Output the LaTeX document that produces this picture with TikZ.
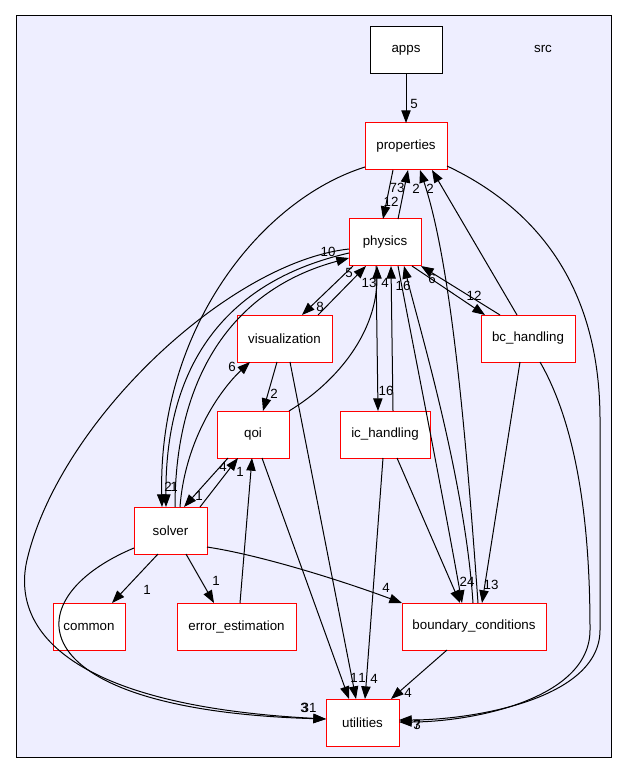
\documentclass[tikz,border=0pt]{standalone}
\usepackage{fontspec}
\setmainfont{Liberation Sans}
\usetikzlibrary{arrows.meta,calc}
\definecolor{clusterbg}{HTML}{EEEEFF}
\tikzset{
  dirbox/.style={draw=red, fill=white, line width=0.75pt, minimum height=35.25pt,
    inner sep=0pt, outer sep=0pt, font=\fontsize{10}{12}\selectfont},
  topbox/.style={dirbox, draw=black},
  dep/.style={-{Triangle[length=9.5pt,width=7pt]}, line width=0.75pt},
  lab/.style={inner sep=0pt, font=\fontsize{10}{12}\selectfont}
}
\begin{document}
\begin{tikzpicture}[x=0.75pt,y=-0.75pt]
\useasboundingbox (0,0) rectangle (628,773);
\fill[white] (0,0) rectangle (628,773);
\draw[fill=clusterbg, line width=0.75pt] (16,16) rectangle (611,757);
\node[lab] (srclabel) at (543,49) {src};

% nodes
\node[topbox, minimum width=54pt] (apps) at (406,50.5) {apps};
\node[dirbox, minimum width=61.5pt] (properties) at (406,146.5) {properties};
\node[dirbox, minimum width=54pt] (physics) at (385,242.5) {physics};
\node[dirbox, minimum width=71.25pt] (visualization) at (284.5,338.5) {visualization};
\node[dirbox, minimum width=70.5pt] (bch) at (528,338.5) {bc\_handling};
\node[dirbox, minimum width=54pt] (qoi) at (253,434.5) {qoi};
\node[dirbox, minimum width=67.5pt] (ich) at (385,434.5) {ic\_handling};
\node[dirbox, minimum width=54.75pt] (solver) at (170.5,530.5) {solver};
\node[dirbox, minimum width=54pt] (common) at (89,626.5) {common};
\node[dirbox, minimum width=89.25pt] (errest) at (236.5,626.5) {error\_estimation};
\node[dirbox, minimum width=108pt] (bcond) at (474,626.5) {boundary\_conditions};
\node[dirbox, minimum width=54.75pt] (utilities) at (362.5,722.5) {utilities};

% edges
\draw[dep] (apps) -- (properties);
\draw[dep] (properties.south -| 393,0) -- (physics.north -| 383,0);
\draw[dep] (physics.north -| 398,0) -- (properties.south -| 408,0);
\draw[dep] (properties.west |- 0,167) .. controls (260,200) and (158,330) .. (solver.north -| 162,0);
\draw[dep] (properties.east |- 0,166) .. controls (540,210) and (600,290) .. (600,420) -- (600,630) .. controls (600,700) and (470,720) .. (utilities.east |- 0,720);
\draw[dep] (physics.south -| 353,0) -- (visualization.north -| 302,0);
\draw[dep] (visualization.north -| 318,0) -- (physics.south -| 366,0);
\draw[dep] (qoi.north east) .. controls (340,380) and (377,330) .. (physics.south -| 377,0);
\draw[dep] (physics.south -| 376,0) -- (ich.north -| 378,0);
\draw[dep] (ich.north -| 393,0) -- (physics.south -| 391,0);
\draw[dep] (physics.south -| 412,0) -- (bch.north -| 485,0);
\draw[dep] (bch.north -| 500,0) -- (physics.south east);
\draw[dep] (bch.north -| 517,0) -- (properties.south -| 432,0);
\draw[dep] (bcond.north -| 478,0) .. controls (465,420) and (450,260) .. (properties.south -| 420,0);
\draw[dep] (physics.south -| 398,0) .. controls (410,330) and (440,480) .. (bcond.north -| 462,0);
\draw[dep] (bcond.north -| 473,0) .. controls (465,480) and (420,330) .. (physics.south -| 404,0);
\draw[dep] (bch.south -| 520,0) -- (bcond.north -| 482,0);
\draw[dep] (bch.south -| 540,0) .. controls (585,440) and (590,560) .. (590,630) .. controls (590,700) and (470,722) .. (utilities.east |- 0,722);
\draw[dep] (visualization.south -| 277,0) -- (qoi.north -| 263,0);
\draw[dep] (visualization.south -| 290,0) -- (utilities.north -| 356,0);
\draw[dep] (qoi.south -| 262,0) -- (utilities.north -| 349,0);
\draw[dep] (ich.south -| 383,0) -- (utilities.north -| 365,0);
\draw[dep] (ich.south -| 397,0) -- (bcond.north -| 460,0);
\draw[dep] (bcond.south -| 447,0) -- (utilities.north -| 391,0);
\draw[dep] (solver.east |- 0,547) .. controls (260,555) and (340,580) .. (bcond.north west);
\draw[dep] (solver.south -| 158,0) -- (common.north -| 112,0);
\draw[dep] (solver.south -| 186,0) -- (errest.north -| 214,0);
\draw[dep] (errest.north -| 240,0) -- (qoi.south -| 252,0);
\draw[dep] (solver.north -| 200,0) -- (qoi.south -| 238,0);
\draw[dep] (qoi.south -| 228,0) -- (solver.north -| 184,0);
\draw[dep] (solver.north -| 175,0) .. controls (175,380) and (230,290) .. (physics.west |- 0,258);
\draw[dep] (physics.west |- 0,253) .. controls (230,280) and (165,360) .. (solver.north -| 166,0);
\draw[dep] (solver.north -| 180,0) .. controls (185,440) and (220,390) .. (visualization.south -| 250,0);
\draw[dep] (physics.west |- 0,249) .. controls (230,262) and (60,420) .. (27,560) .. controls (12,625) and (60,705) .. (utilities.west |- 0,719);
\draw[dep] (solver.west |- 0,548) .. controls (10,600) and (20,710) .. (utilities.west |- 0,719);

% labels
\node[lab] (l1) at (414,104) {5};
\node[lab] (l2) at (397,188) {73};
\node[lab] (l3) at (391,202) {12};
\node[lab] (l4) at (416,189) {2};
\node[lab] (l5) at (430,189) {2};
\node[lab] (l6) at (328,252) {10};
\node[lab] (l7) at (349,273) {5};
\node[lab] (l8) at (320,307) {8};
\node[lab] (l9) at (369,283) {13};
\node[lab] (l10) at (385,283) {4};
\node[lab] (l11) at (403,286) {16};
\node[lab] (l12) at (432,279) {6};
\node[lab] (l13) at (474,296) {12};
\node[lab] (l14) at (232,367) {6};
\node[lab] (l15) at (274,394) {2};
\node[lab] (l16) at (386,391) {16};
\node[lab] (l17) at (168,487) {2};
\node[lab] (l18) at (174,487) {1};
\node[lab] (l19) at (223,467) {4};
\node[lab] (l20) at (240,472) {1};
\node[lab] (l21) at (199,496) {1};
\node[lab] (l22) at (147,590) {1};
\node[lab] (l23) at (216,581) {1};
\node[lab] (l24) at (386,588) {4};
\node[lab] (l25) at (467,582) {24};
\node[lab] (l26) at (491,585) {13};
\node[lab] (l27) at (354,678) {1};
\node[lab] (l28) at (362,678) {1};
\node[lab] (l29) at (374,679) {4};
\node[lab] (l30) at (408,693) {4};
\node[lab] (l31) at (304,708) {3};
\node[lab] (l32) at (309,708) {31};
\node[lab] (l33) at (417,725) {3};
\node[lab] (l34) at (417,725) {7};
\end{tikzpicture}
\end{document}
